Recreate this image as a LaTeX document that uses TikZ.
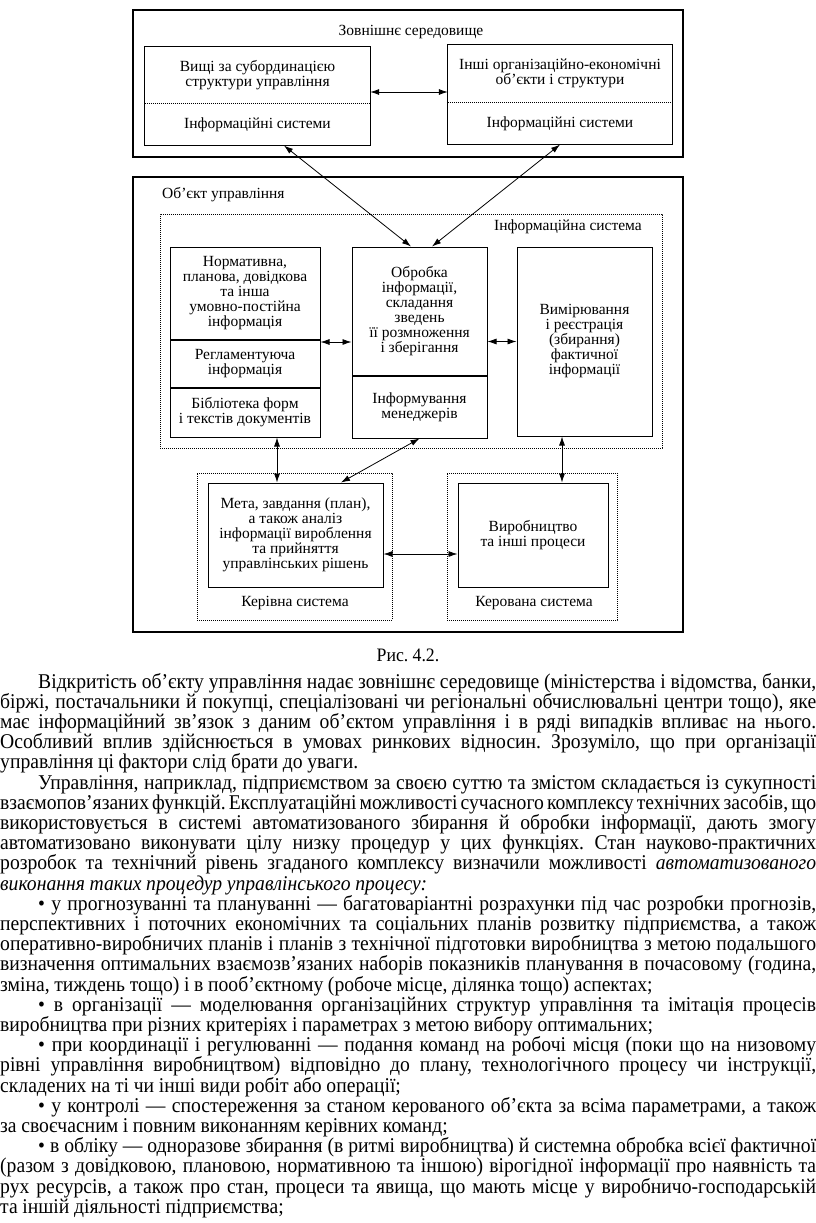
\documentclass[tikz,border=0pt]{standalone}
\usepackage{fontspec}
\setmainfont{Liberation Serif}
\newfontfamily\bodyfont[FakeStretch=0.935, WordSpace={0.95,1,1.4}]{Liberation Serif}
\usetikzlibrary{positioning,arrows.meta}
\setlength{\parindent}{0pt}
\frenchspacing

\begin{document}
\begin{tikzpicture}[x=1pt, y=-1pt,
    every node/.style={font=\fontsize{15.5}{15}\selectfont, align=center, inner sep=0pt},
    sect/.style={draw, line width=1pt},
    plain/.style={},
    panel/.style={draw, line width=1.3pt},
    group/.style={draw, line width=0.7pt, dash pattern=on 0.8pt off 1.2pt},
    dbl/.style={line width=0.8pt, {Latex[length=9pt,width=6pt]}-{Latex[length=9pt,width=6pt]}},
    body/.style={font=\bodyfont\fontsize{21}{20.2}\selectfont, text width=816pt, align=justify, anchor=base west}]
    \useasboundingbox (0,0) rectangle (816,1223);

    \node[panel, minimum width=550pt, minimum height=147pt] (env) at (408,83.5) {};
    \node (envlbl) at (411,32) {Зовнішнє середовище};
    \node[plain, minimum width=225pt, minimum height=56pt] (higher) at (257.5,75) {Вищі за субординацією\\структури управління};
    \node[plain, minimum width=225pt, minimum height=42pt, below=0pt of higher] (higherIS) {Інформаційні системи};
    \draw[line width=1pt] (higher.north west) rectangle (higherIS.south east);
    \draw[group] (higher.south west) -- (higher.south east);
    \node[plain, minimum width=224pt, minimum height=57pt] (other) at (560,73.5) {Інші організаційно-економічні\\об’єкти і структури};
    \node[plain, minimum width=224pt, minimum height=42pt, below=0pt of other] (otherIS) {Інформаційні системи};
    \draw[line width=1pt] (other.north west) rectangle (otherIS.south east);
    \draw[group] (other.south west) -- (other.south east);

    \node[panel, minimum width=550pt, minimum height=455pt] (obj) at (408,404.5) {};
    \node[anchor=west] (objlbl) at (162,195) {Об’єкт управління};
    \node[group, minimum width=502pt, minimum height=234pt] (infosys) at (411,331) {};
    \node[anchor=east] (infolbl) at (642,227) {Інформаційна система};
    \node[sect, minimum width=150pt, minimum height=92pt] (norm) at (245,293) {Нормативна,\\планова, довідкова\\та інша\\умовно-постійна\\інформація};
    \node[sect, minimum width=150pt, minimum height=47pt, below=0pt of norm] (regl) {Регламентуюча\\інформація};
    \node[sect, minimum width=150pt, minimum height=49pt, below=0pt of regl] (libr) {Бібліотека форм\\і текстів документів};
    \node[sect, minimum width=135pt, minimum height=128pt] (proc) at (419.5,311) {Обробка\\інформації,\\складання\\зведень\\її розмноження\\і зберігання};
    \node[sect, minimum width=135pt, minimum height=62pt, below=0pt of proc] (inform) {Інформування\\менеджерів};
    \node[sect, minimum width=135pt, minimum height=189pt] (meas) at (584.5,341.5) {Вимірювання\\і реєстрація\\(збирання)\\фактичної\\інформації};

    \node[group, minimum width=195pt, minimum height=147pt] (ctrl) at (294.5,546.5) {};
    \node[group, minimum width=170pt, minimum height=147pt] (mng) at (532,546.5) {};
    \node[sect, minimum width=175pt, minimum height=104pt] (goal) at (295.5,535) {Мета, завдання (план),\\а також аналіз\\інформації вироблення\\та прийняття\\управлінських рішень};
    \node[sect, minimum width=150pt, minimum height=104pt] (prod) at (533,535) {Виробництво\\та інші процеси};
    \node (ctrllbl) at (295,603) {Керівна система};
    \node (mnglbl) at (534,603) {Керована система};

    \draw[dbl] ([yshift=-17pt]higher.east) -- ([yshift=-17pt]higher.east -| other.west);
    \draw[dbl] ([xshift=26.5pt]higherIS.south) -- ([xshift=-8.5pt]proc.north);
    \draw[dbl] (otherIS.south) -- ([xshift=12.5pt]proc.north);
    \draw[dbl] ([yshift=-31pt]proc.west) -- ([yshift=-31pt]proc.west -| regl.east);
    \draw[dbl] (proc.east |- meas.west) -- (meas.west);
    \draw[dbl] ([xshift=32pt]libr.south) -- ([xshift=32pt]libr.south |- goal.north);
    \draw[dbl] (inform.south) -- ([xshift=45.5pt]goal.north);
    \draw[dbl] ([xshift=-22.5pt]meas.south) -- ([xshift=-22.5pt]meas.south |- prod.north);
    \draw[dbl] ([yshift=-19pt]goal.east) -- ([yshift=-19pt]prod.west);

    \node[font=\bodyfont\fontsize{19}{20}\selectfont] (cap) at (408,655) {Рис. 4.2.};

    \node[body] (para1) at (0,688) {\hspace*{38pt}Відкритість об’єкту управління надає зовнішнє середовище (міністерства і відомства, банки,\linebreak
      біржі, постачальники й покупці, спеціалізовані чи регіональні обчислювальні центри тощо), яке\linebreak
      має інформаційний зв’язок з даним об’єктом управління і в ряді випадків впливає на нього.\linebreak
      Особливий вплив здійснюється в умовах ринкових відносин. Зрозуміло, що при організації\linebreak
      управління ці фактори слід брати до уваги.};
    \node[body] (para2) at (0,789) {\hspace*{38pt}Управління, наприклад, підприємством за своєю суттю та змістом складається із сукупності\linebreak
      взаємопов’язаних функцій. Експлуатаційні можливості сучасного комплексу технічних засобів, що\linebreak
      використовується в системі автоматизованого збирання й обробки інформації, дають змогу\linebreak
      автоматизовано виконувати цілу низку процедур у цих функціях. Стан науково-практичних\linebreak
      розробок та технічний рівень згаданого комплексу визначили можливості \textit{автоматизованого}\linebreak
      \textit{виконання таких процедур управлінського процесу:}};
    \node[body] (item1) at (0,910.2) {\hspace*{38pt}• у прогнозуванні та плануванні — багатоваріантні розрахунки під час розробки прогнозів,\linebreak
      перспективних і поточних економічних та соціальних планів розвитку підприємства, а також\linebreak
      оперативно-виробничих планів і планів з технічної підготовки виробництва з метою подальшого\linebreak
      визначення оптимальних взаємозв’язаних наборів показників планування в почасовому (година,\linebreak
      зміна, тиждень тощо) і в пооб’єктному (робоче місце, ділянка тощо) аспектах;};
    \node[body] (item2) at (0,1011.2) {\hspace*{38pt}• в організації — моделювання організаційних структур управління та імітація процесів\linebreak
      виробництва при різних критеріях і параметрах з метою вибору оптимальних;};
    \node[body] (item3) at (0,1051.6) {\hspace*{38pt}• при координації і регулюванні — подання команд на робочі місця (поки що на низовому\linebreak
      рівні управління виробництвом) відповідно до плану, технологічного процесу чи інструкції,\linebreak
      складених на ті чи інші види робіт або операції;};
    \node[body] (item4) at (0,1112.2) {\hspace*{38pt}• у контролі — спостереження за станом керованого об’єкта за всіма параметрами, а також\linebreak
      за своєчасним і повним виконанням керівних команд;};
    \node[body] (item5) at (0,1152.6) {\hspace*{38pt}• в обліку — одноразове збирання (в ритмі виробництва) й системна обробка всієї фактичної\linebreak
      (разом з довідковою, плановою, нормативною та іншою) вірогідної інформації про наявність та\linebreak
      рух ресурсів, а також про стан, процеси та явища, що мають місце у виробничо-господарській\linebreak
      та іншій діяльності підприємства;};
  \end{tikzpicture}
\end{document}
